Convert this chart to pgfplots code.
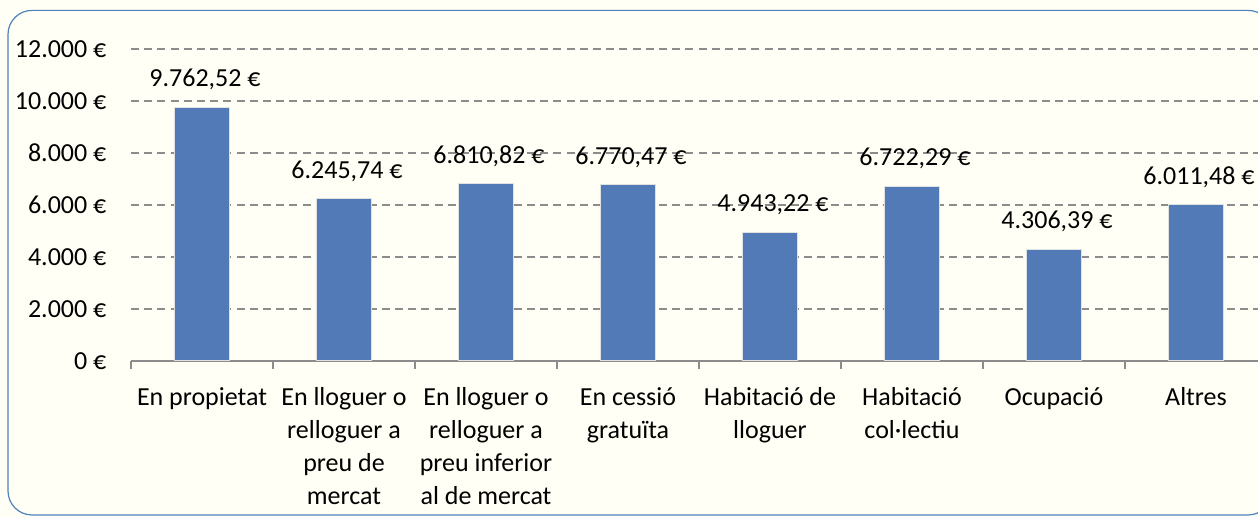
\documentclass[border=0pt]{standalone}
\usepackage{fontspec}
\setmainfont{Carlito}
\usepackage{pgfplots}
\usepackage{pgfplotstable}
\pgfplotsset{compat=1.18}
\definecolor{barblue}{RGB}{81,122,182}
\definecolor{bg}{RGB}{255,255,245}
\definecolor{framec}{RGB}{79,129,189}
\definecolor{gridgray}{RGB}{140,140,140}
\pgfplotstableread{
x y label
0 9762.52 {9.762,52 €}
1 6245.74 {6.245,74 €}
2 6810.82 {6.810,82 €}
3 6770.47 {6.770,47 €}
4 4943.22 {4.943,22 €}
5 6722.29 {6.722,29 €}
6 4306.39 {4.306,39 €}
7 6011.48 {6.011,48 €}
}\datatable
\begin{document}
\begin{tikzpicture}
\useasboundingbox (0,0) rectangle (629pt,258.5pt);
\fill[bg] (0,0) rectangle (629pt,258.5pt);
\draw[framec, line width=0.6pt, rounded corners=12pt] (4pt,1pt) rectangle (636pt,253.3pt);
\begin{axis}[
  at={(65.5pt,78pt)}, anchor=south west,
  scale only axis, width=568pt, height=156pt,
  xmin=-0.5, xmax=7.5, ymin=0, ymax=12000,
  scaled y ticks=false,
  ybar, bar width=27.5pt,
  axis x line*=bottom, axis y line*=left,
  x axis line style={gridgray, line width=0.7pt, -},
  y axis line style={draw=none},
  xtick={0,...,7},
  xticklabels={En propietat, {En lloguer o\\relloguer a\\preu de\\mercat}, {En lloguer o\\relloguer a\\preu inferior\\al de mercat}, {En cessió\\gratuïta}, {Habitació de\\lloguer}, {Habitació\\col·lectiu}, Ocupació, Altres},
  major x tick style={draw=none},
  minor xtick={-0.5,0.5,...,7.5},
  minor x tick style={gridgray, line width=0.7pt},
  tick align=outside, minor tick length=4pt,
  xticklabel style={align=center, font=\fontsize{13}{16.5}\selectfont, yshift=-5.5pt},
  ytick={0,2000,...,12000},
  yticklabels={0 €, 2.000 €, 4.000 €, 6.000 €, 8.000 €, 10.000 €, 12.000 €},
  ytick style={draw=none},
  yticklabel style={font=\fontsize{13}{16.5}\selectfont, xshift=-4.5pt},
  ymajorgrids,
  grid style={gridgray, line width=0.75pt, dash pattern=on 4pt off 2.6pt},
  point meta=explicit symbolic,
  nodes near coords,
  nodes near coords style={font=\fontsize{13}{16.5}\selectfont, black, yshift=5pt, xshift=1.5pt},
  clip=false,
]
\addplot[fill=barblue, draw={rgb,255:red,225;green,225;blue,225}, line width=0.5pt]
  table[x=x, y=y, meta=label] {\datatable};
\end{axis}
\end{tikzpicture}
\end{document}
